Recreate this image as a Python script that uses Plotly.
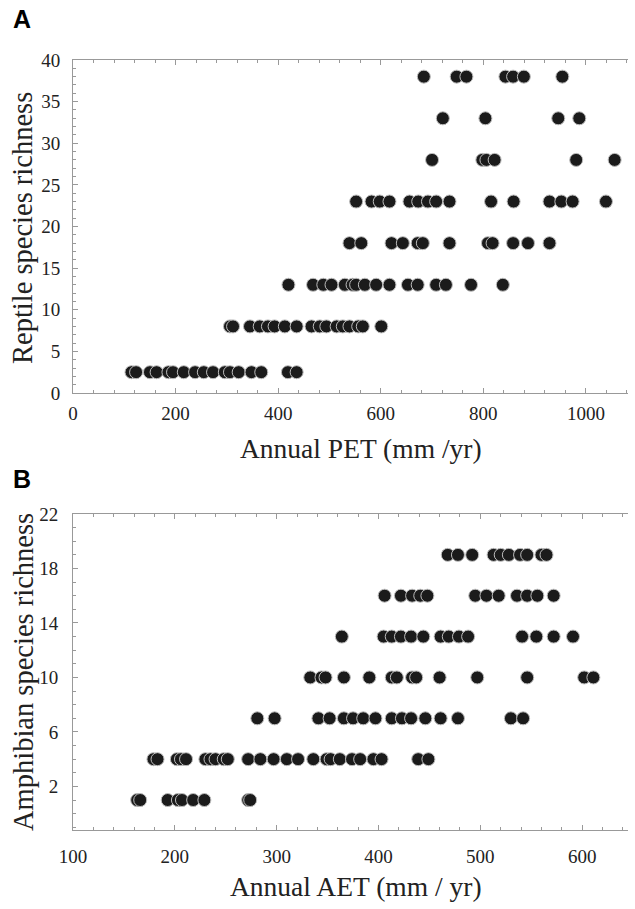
import plotly.graph_objects as go

# Panel A: Reptile richness vs annual PET
pet_x = [114, 123, 150, 163, 186, 195, 216, 238, 255, 273, 296, 306, 323, 348, 367, 419, 436,
         306, 312, 345, 364, 380, 393, 413, 436, 465, 481, 494, 514, 526, 539, 556, 565, 601,
         420, 468, 488, 504, 530, 545, 552, 569, 591, 617, 653, 672, 708, 727, 776, 838,
         539, 562, 621, 643, 672, 682, 734, 809, 818, 858, 887, 929,
         552, 582, 598, 617, 656, 673, 692, 708, 734, 815, 859, 929, 952, 974, 1039,
         700, 798, 806, 822, 981, 1056,
         721, 804, 946, 987,
         684, 748, 767, 843, 858, 879, 954]
pet_y = [2.5] * 17 + [8] * 17 + [13] * 16 + [18] * 12 + [23] * 15 + [28] * 6 + [33] * 4 + [38] * 7

# Panel B: Amphibian richness vs annual AET
aet_x = [163, 166, 193, 203, 207, 218, 229, 272, 274,
         179, 183, 202, 206, 211, 230, 235, 240, 248, 252, 272, 284, 297, 310, 321, 336, 349, 353,
         362, 374, 382, 395, 403, 439, 449,
         281, 298, 341, 352, 366, 375, 385, 397, 413, 423, 432, 446, 461, 478, 530, 542,
         333, 344, 348, 366, 391, 413, 418, 433, 437, 460, 497, 546, 602, 611,
         364, 405, 413, 422, 432, 444, 461, 469, 479, 488, 541, 555, 572, 591,
         406, 422, 433, 441, 448, 495, 506, 518, 536, 546, 556, 572,
         468, 478, 492, 513, 520, 528, 539, 546, 560, 565]
aet_y = [1] * 9 + [4] * 25 + [7] * 16 + [10] * 14 + [13] * 14 + [16] * 12 + [19] * 10

W, H = 635, 909


def px(x):
    return x / W


def py(y):
    return 1 - y / H


serif = "Liberation Serif, Times New Roman, serif"
marker = dict(size=13, color="#1b1b1b", line=dict(color="#bdbdbd", width=1))

fig = go.Figure()
fig.add_trace(go.Scatter(x=pet_x, y=pet_y, mode="markers", marker=marker,
                         xaxis="x", yaxis="y", showlegend=False, cliponaxis=False))
fig.add_trace(go.Scatter(x=aet_x, y=aet_y, mode="markers", marker=marker,
                         xaxis="x2", yaxis="y2", showlegend=False, cliponaxis=False))

xd = [px(73), px(628)]
common = dict(showgrid=False, zeroline=False, showline=True, linecolor="#999999",
              linewidth=1, ticks="inside", ticklen=5, tickcolor="#999999", automargin=False,
              tickfont=dict(family=serif, size=19, color="#222222"))

fig.update_layout(
    width=W, height=H, plot_bgcolor="white", paper_bgcolor="white",
    margin=dict(l=0, r=0, t=0, b=0),
    xaxis=dict(domain=xd, anchor="y", range=[0, 1082], tickvals=[0, 200, 400, 600, 800, 1000],
               mirror="ticks", ticklabelstandoff=3,
               minor=dict(dtick=40, ticks="inside", ticklen=3, tickcolor="#999999"), **common),
    yaxis=dict(domain=[py(393), py(60)], anchor="x", range=[0, 40],
               tickvals=[0, 5, 10, 15, 20, 25, 30, 35, 40], ticklabelstandoff=8,
               minor=dict(dtick=1, ticks="inside", ticklen=3, tickcolor="#999999"), **common),
    xaxis2=dict(domain=xd, anchor="y2", range=[100, 645], tickvals=[100, 200, 300, 400, 500, 600],
                mirror="ticks", ticklabelstandoff=9,
                minor=dict(dtick=20, ticks="inside", ticklen=3, tickcolor="#999999"), **common),
    yaxis2=dict(domain=[py(830), py(514)], anchor="x2", range=[-1.2, 22],
                tickvals=[2, 6, 10, 14, 18, 22], ticklabelstandoff=10,
                minor=dict(dtick=1, tick0=0, ticks="inside", ticklen=3, tickcolor="#999999"), **common),
)

ann = [
    dict(text="<b>A</b>", x=px(12), y=py(19), font=dict(family="Liberation Sans, Arial", size=25, color="black"),
         xanchor="left", yanchor="middle"),
    dict(text="<b>B</b>", x=px(12), y=py(479), font=dict(family="Liberation Sans, Arial", size=25, color="black"),
         xanchor="left", yanchor="middle"),
    dict(text="Annual PET (mm /yr)", x=px(361), y=py(448), font=dict(family=serif, size=27.5, color="#222222"),
         xanchor="center", yanchor="middle"),
    dict(text="Annual AET (mm / yr)", x=px(356), y=py(886), font=dict(family=serif, size=27.5, color="#222222"),
         xanchor="center", yanchor="middle"),
    dict(text="Reptile species richness", x=px(23), y=py(228), textangle=-90,
         font=dict(family=serif, size=28.5, color="#222222"), xanchor="center", yanchor="middle"),
    dict(text="Amphibian species richness", x=px(23), y=py(672), textangle=-90,
         font=dict(family=serif, size=28.5, color="#222222"), xanchor="center", yanchor="middle"),
]
for a in ann:
    a.update(xref="paper", yref="paper", showarrow=False, borderpad=0)
fig.update_layout(annotations=ann)

fig.write_html("out.html", config={"displayModeBar": False},
               post_script="document.body.style.margin='0';")
